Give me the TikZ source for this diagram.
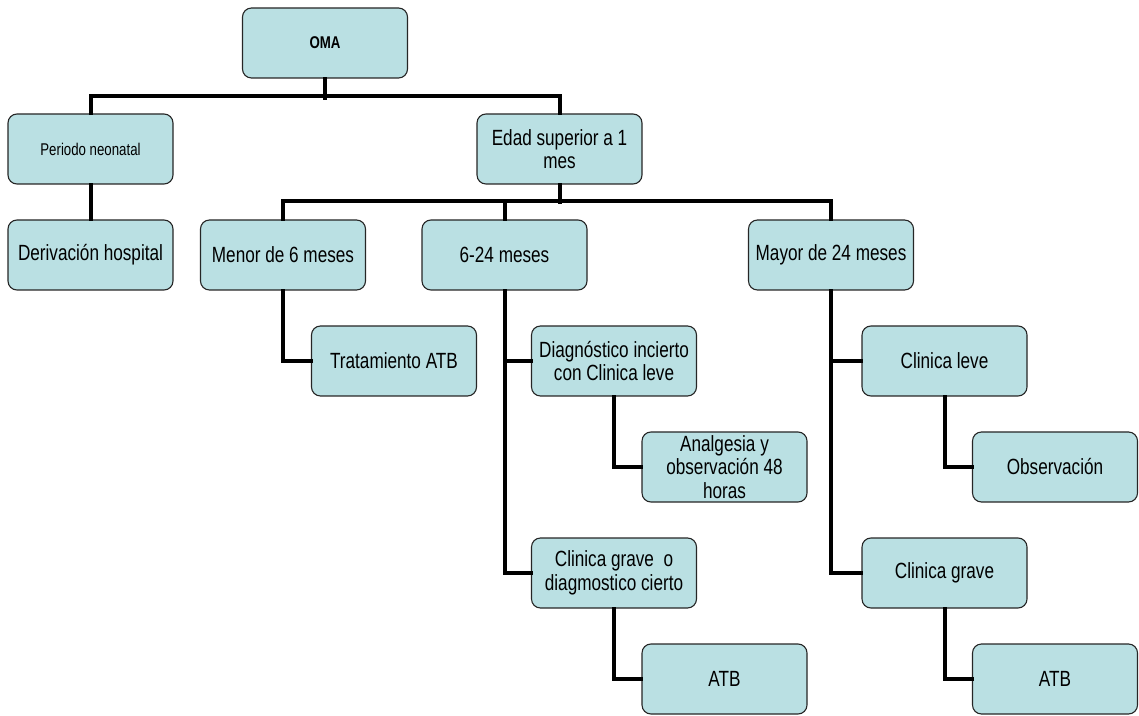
\documentclass[tikz,border=0pt]{standalone}
\usepackage{fontspec}
\setmainfont{Liberation Sans}[FakeStretch=0.78]
\usepackage{tikz}
\definecolor{boxfill}{RGB}{186,224,227}

\begin{document}
\begin{tikzpicture}[x=1pt, y=1pt,
    box/.style={draw=black!85, line width=1.1pt, fill=boxfill, rounded corners=9pt,
      minimum width=165pt, minimum height=70pt, inner sep=2pt, align=center,
      font=\fontsize{22}{23.5}\selectfont},
    small/.style={font=\fontsize{17}{19}\selectfont},
    conn/.style={line width=4pt, line join=miter, line cap=rect}]
  \useasboundingbox (0,0) rectangle (1139,715);
  % top levels
  \node[box, small] (oma) at (325,672) {\textbf{OMA}};
  \node[box, small] (neo) at (90.5,566) {Periodo neonatal};
  \node[box] (edad) at (559.5,566) {Edad superior a 1\\mes};
  % ages
  \node[box] (deriv) at (90.5,460) {Derivación hospital};
  \node[box] (menor) at (283,460) {Menor de 6 meses};
  \node[box] (medio) at (504.5,460) {6-24 meses};
  \node[box] (mayor) at (831,460) {Mayor de 24 meses};
  % under 6 months
  \node[box] (trat) at (394,354) {Tratamiento ATB};
  % 6-24 months
  \node[box] (dinc) at (614,354) {Diagnóstico incierto\\con Clinica leve};
  \node[box] (analg) at (724.5,248) {Analgesia y\\observación 48\\horas};
  \node[box] (gcierto) at (614,142) {Clinica grave\ \ o\\diagmostico cierto};
  \node[box] (atba) at (724.5,36) {ATB};
  % over 24 months
  \node[box] (cleve) at (944.5,354) {Clinica leve};
  \node[box] (obs) at (1055,248) {Observación};
  \node[box] (cgrave) at (944.5,142) {Clinica grave};
  \node[box] (atbb) at (1055,36) {ATB};
  % connectors
  \draw[conn] (oma.south) -- ++(0,-19);
  \draw[conn] (neo.north) -- ++(0,17) -| (edad.north);
  \draw[conn] (neo.south) -- (deriv.north);
  \draw[conn] (edad.south) -- ++(0,-17);
  \draw[conn] (menor.north) -- ++(0,18) -| (mayor.north);
  \draw[conn] (medio.north) -- ++(0,18);
  \draw[conn] (menor.south) |- (trat.west);
  \draw[conn] (medio.south) |- (dinc.west);
  \draw[conn] (medio.south) |- (gcierto.west);
  \draw[conn] (dinc.south) |- (analg.west);
  \draw[conn] (gcierto.south) |- (atba.west);
  \draw[conn] (mayor.south) |- (cleve.west);
  \draw[conn] (mayor.south) |- (cgrave.west);
  \draw[conn] (cleve.south) |- (obs.west);
  \draw[conn] (cgrave.south) |- (atbb.west);
\end{tikzpicture}
\end{document}
